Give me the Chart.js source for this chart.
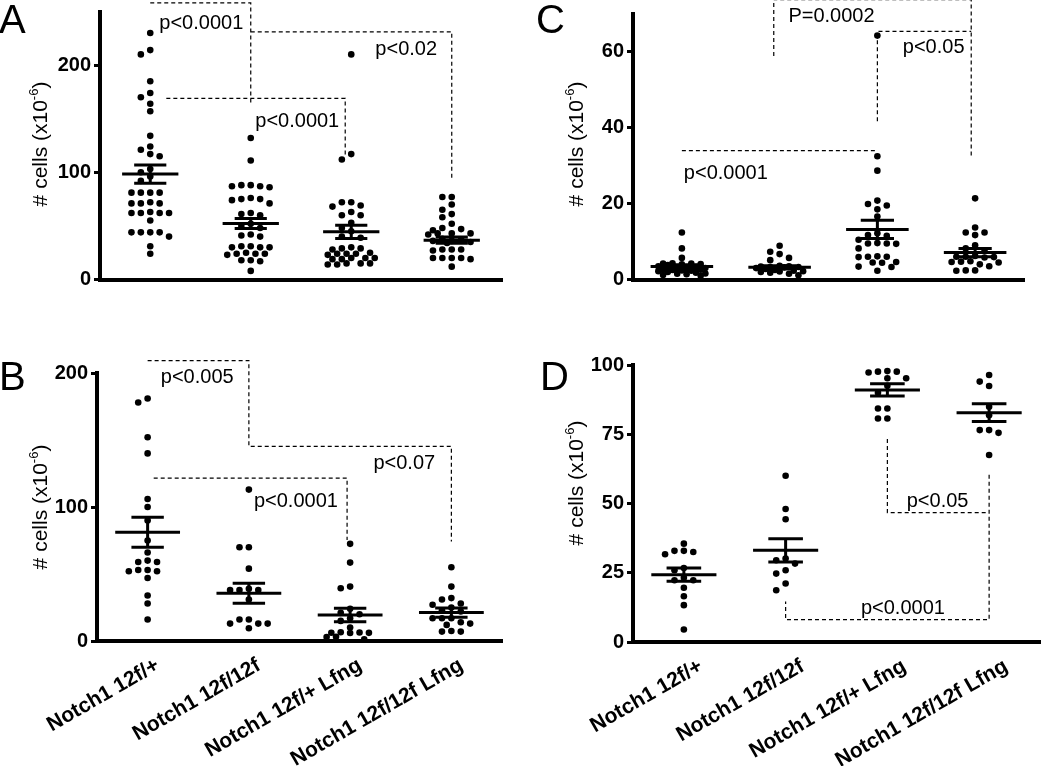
<!DOCTYPE html>
<html lang="en">
<head>
<meta charset="UTF-8">
<title>Notch1 12f / Lfng cell numbers</title>
<script src="https://cdn.jsdelivr.net/npm/chart.js@4.4.0/dist/chart.umd.min.js"></script>
<style>
    body { margin: 0; background: #fff; }
    #wrap { position: relative; width: 1050px; height: 766px; overflow: hidden; }
    #wrap canvas { position: absolute; }
</style>
</head>
<body>
<div id="wrap">
    <canvas id="panelA" width="525" height="300" style="left:0;top:0"></canvas>
    <canvas id="panelC" width="525" height="300" style="left:525px;top:0"></canvas>
    <canvas id="panelB" width="525" height="466" style="left:0;top:300px"></canvas>
    <canvas id="panelD" width="525" height="466" style="left:525px;top:300px"></canvas>
</div>

<script>
const FONT = '"Liberation Sans", Arial, Helvetica, sans-serif';

const groups = ['Notch1 12f/+', 'Notch1 12f/12f', 'Notch1 12f/+ Lfng', 'Notch1 12f/12f Lfng'];

// Panel A
const cellsA = [
    [230, 214, 210, 185, 174, 170, 164, 157, 134, 124, 121, 117, 115, 103, 100, 96, 92, 81, 81, 81, 81, 72, 71, 71, 71, 63, 62, 62, 62, 62, 55, 44, 44, 44, 44, 40, 31, 24],
    [132, 111, 88, 88, 87, 86, 87, 75, 76, 75, 74, 71, 62, 61, 60, 52, 50, 48, 42, 41, 40, 31, 30, 31, 30, 30, 24, 24, 25, 23, 24, 18, 18, 17, 8],
    [210, 117, 112, 72, 72, 69, 68, 63, 60, 60, 53, 48, 45, 40, 39, 30, 29, 29, 28, 24, 24, 23, 24, 25, 20, 20, 19, 20, 19, 15, 14, 14, 15, 15],
    [77, 77, 70, 65, 61, 58, 52, 48, 47, 46, 43, 43, 42, 43, 38, 37, 36, 36, 35, 34, 28, 28, 27, 28, 20, 20, 19, 20, 20, 12]
];
const meanA = [98.3, 52.3, 44.5, 36.7];
const semA = [8.5, 4.7, 6.2, 3.0];
const ticksA = [0, 100, 200];
const bracketsA = [
    [[0, 258], [1, 258], [1, 163]],
    [[1, 231], [3, 231], [3, 94.5]],
    [[0.16, 169], [1.94, 169], [1.94, 114.5]]
];
const pTextA = ['p<0.0001', 'p<0.02', 'p<0.0001'];
const pAtA = [[0.09, 234], [2.24, 209], [1.045, 142]];

// Panel B
const cellsB = [
    [181, 178, 152, 140, 106, 100, 90, 75, 66, 60, 59, 59, 53, 52, 52, 53, 47, 34, 28, 16],
    [113, 70, 70, 54, 39, 38, 38, 38, 31, 16, 13, 16, 13, 13, 9.5],
    [72.5, 58.5, 40.6, 39.4, 24, 21, 20, 17, 15, 10, 6.5, 6.3, 6.2, 6.1, 6.0, 3.2, 3.0, 1.2],
    [55, 40.6, 32, 31, 28, 27, 25, 23, 22, 17, 17, 17, 14, 13, 12, 7.5, 7, 7]
];
const meanB = [81.2, 35.6, 19.4, 21.2];
const semB = [11.2, 7.5, 5.0, 3.4];
const ticksB = [0, 100, 200];
const bracketsB = [
    [[0, 209.3], [1, 209.3], [1, 145.2], [3, 145.2], [3, 74.2]],
    [[0.06, 121.5], [1.97, 121.5], [1.97, 75.4]]
];
const pTextB = ['p<0.005', 'p<0.07', 'p<0.0001'];
const pAtB = [[0.13, 192.5], [2.23, 128.2], [1.05, 100.3]];

// Panel C
const cellsC = [
    [12.4, 8.2, 5.7, 4.3, 4.2, 4.1, 4.0, 4.2, 3.8, 3.5, 3.3, 3.0, 2.8, 2.7, 2.6, 2.6, 2.5, 2.4, 2.3, 2.2, 2.0, 1.8, 1.6, 1.5, 1.4, 1.2, 1.0],
    [8.9, 7.3, 6.7, 5.7, 5.1, 3.6, 3.5, 3.4, 3.3, 3.3, 3.2, 3.0, 2.8, 2.5, 2.3, 2.2, 2.1, 2.0, 1.8, 1.5, 1.1],
    [64.3, 32.5, 28.7, 20.8, 19.9, 19.5, 18.5, 16.6, 12.2, 11.7, 11.5, 10.5, 9.5, 9.5, 9.4, 9.6, 8.2, 6.0, 6.0, 6.1, 5.9, 4.6, 4.5, 4.4, 3.4, 3.3, 2.3],
    [21.4, 13.7, 12.4, 12.4, 11.7, 9.0, 8.2, 7.5, 6.2, 6.0, 6.0, 5.9, 5.8, 4.8, 4.7, 4.6, 4.5, 4.0, 3.5, 2.4, 2.4, 2.3]
];
const meanC = [3.4, 3.2, 13.2, 7.1];
const semC = [0.5, 0.4, 2.4, 1.1];
const ticksC = [0, 20, 40, 60];
const bracketsC = [
    [[0.94, 58.9], [0.94, 73.8], [2.96, 73.8], [2.96, 32.5]],
    [[2, 41.7], [2, 65.4], [2.96, 65.4]],
    [[0, 34], [1.98, 34]]
];
const pTextC = ['P=0.0002', 'p<0.05', 'p<0.0001'];
const pAtC = [[1.09, 67.9], [2.26, 59.6], [0.02, 26.5]];

// Panel D
const cellsD = [
    [35.5, 32.9, 32.5, 31.7, 32.9, 26.7, 25.9, 23.2, 22.3, 22.3, 19.6, 16.5, 13.3, 4.5],
    [60, 48, 44.3, 30.1, 29.5, 28.3, 25.9, 24.7, 21.1, 18.7],
    [97.6, 97.8, 97.3, 97.6, 95.2, 95.2, 92.5, 90, 84.3, 84.3, 80.7, 80.7],
    [96.4, 94, 92.4, 84.9, 81.9, 76.5, 76.5, 75.5, 67.5]
];
const meanD = [24.3, 33.1, 91.0, 82.8];
const semD = [2.4, 4.2, 2.2, 3.2];
const ticksD = [0, 25, 50, 75, 100];
const bracketsD = [
    [[2, 73.3], [2, 46.7], [3, 46.7]],
    [[3, 60.4], [3, 8.1], [1, 8.1], [1, 14.6]]
];
const pTextD = ['p<0.05', 'p<0.0001'];
const pAtD = [[2.19, 48.9], [1.74, 10.1]];

// spread points sideways in rows (Prism style), at most 2.5 steps from the centre
const SLOTS = [0, -1, 1, -2, 2, -0.5, 0.5, -1.5, 1.5, -2.5, 2.5];
function swarm(values, gi, pxPerUnit, pxPerCat) {
    const step = 9.4, gap = 7;
    const placed = [];
    return [...values].sort((a, b) => b - a).map(v => {
        const py = v * pxPerUnit;
        let best = 0, bestClear = -1;
        for (const k of SLOTS) {
            const px = k * step;
            let clear = Infinity;
            placed.forEach(p => { clear = Math.min(clear, Math.hypot(p[0] - px, p[1] - py)); });
            if (clear >= gap && Number.isInteger(k)) { best = px; bestClear = clear; break; }
            if (clear > bestClear) { bestClear = clear; best = px; }
        }
        placed.push([best, py]);
        return { x: gi + best / pxPerCat, y: v };
    });
}

function meanSem(mean, sem, half, cap) {
    const pts = [];
    mean.forEach((m, i) => {
        const s = sem[i];
        pts.push({ x: i - half, y: m }, { x: i + half, y: m }, { x: i, y: null });
        pts.push({ x: i - cap, y: m + s }, { x: i + cap, y: m + s }, { x: i, y: null });
        pts.push({ x: i - cap, y: m - s }, { x: i + cap, y: m - s }, { x: i, y: null });
        pts.push({ x: i, y: m - s }, { x: i, y: m + s }, { x: i, y: null });
    });
    return pts;
}

function bracketPts(list) {
    const pts = [];
    list.forEach(b => {
        b.forEach(p => pts.push({ x: p[0], y: p[1] }));
        pts.push({ x: b[0][0], y: null });
    });
    return pts;
}

function drawYTitle(ctx, x, y) {
    const main = '# cells (x10', sup = '-6', end = ')';
    ctx.save();
    ctx.translate(x, y);
    ctx.rotate(-Math.PI / 2);
    ctx.fillStyle = '#000';
    ctx.textAlign = 'left';
    ctx.textBaseline = 'alphabetic';
    ctx.font = '21px ' + FONT;
    const w1 = ctx.measureText(main).width, w3 = ctx.measureText(end).width;
    ctx.font = '13px ' + FONT;
    const w2 = ctx.measureText(sup).width;
    let cx = -(w1 + w2 + w3) / 2;
    ctx.font = '21px ' + FONT;
    ctx.fillText(main, cx, 0);
    cx += w1;
    ctx.font = '13px ' + FONT;
    ctx.fillText(sup, cx, -9);
    cx += w2;
    ctx.font = '21px ' + FONT;
    ctx.fillText(end, cx, 0);
    ctx.restore();
}

const panelDecor = {
    id: 'panelDecor',
    afterDraw(chart, args, o) {
        const ctx = chart.ctx, xs = chart.scales.x, ys = chart.scales.y;
        ctx.save();
        ctx.fillStyle = '#000';
        ctx.textAlign = 'left';
        ctx.textBaseline = 'alphabetic';
        ctx.font = '40px ' + FONT;
        ctx.fillText(o.letter, o.letterAt[0], o.letterAt[1]);
        ctx.font = '20px ' + FONT;
        o.notes.forEach((t, i) => {
            ctx.fillText(t, xs.getPixelForValue(o.noteAt[i][0]), ys.getPixelForValue(o.noteAt[i][1]));
        });
        ctx.restore();
        drawYTitle(ctx, o.titleAt[0], o.titleAt[1]);
    }
};

function makePanel(p) {
    const area = p.area;
    const pxPerUnit = (area.bottom - area.top) / p.max;
    const pxPerCat = (area.right - area.left) / 4;
    const dots = [];
    p.cells.forEach((vals, i) => dots.push(...swarm(vals, i, pxPerUnit, pxPerCat)));
    const cv = document.getElementById(p.id);

    new Chart(cv, {
        type: 'scatter',
        data: {
            datasets: [
                {
                    data: bracketPts(p.brackets),
                    showLine: true, spanGaps: false,
                    borderColor: '#000', borderWidth: 1.2, borderDash: [4, 3],
                    pointRadius: 0, clip: false
                },
                {
                    data: dots,
                    pointRadius: 3.3, pointBackgroundColor: '#000', pointBorderWidth: 0,
                    clip: false
                },
                {
                    data: meanSem(p.mean, p.sem, p.half, p.cap),
                    showLine: true, spanGaps: false,
                    borderColor: '#000', borderWidth: 3, borderCapStyle: 'butt',
                    pointRadius: 0, clip: false
                }
            ]
        },
        options: {
            responsive: false,
            animation: false,
            events: [],
            layout: { padding: { left: 0, top: area.top, right: cv.width - area.right, bottom: 0 } },
            plugins: {
                legend: { display: false },
                tooltip: { enabled: false },
                panelDecor: {
                    letter: p.letter, letterAt: p.letterAt, titleAt: p.titleAt,
                    notes: p.notes, noteAt: p.noteAt
                }
            },
            scales: {
                x: {
                    type: 'linear', min: -0.5, max: 3.5,
                    afterBuildTicks: s => { s.ticks = groups.map((g, i) => ({ value: i })); },
                    afterFit: s => { s.height = cv.height - area.bottom; s.paddingLeft = 0; s.paddingRight = 0; },
                    grid: { display: false, drawTicks: false },
                    border: { display: true, color: '#000', width: 4 },
                    ticks: {
                        display: p.showX, autoSkip: false,
                        minRotation: 30, maxRotation: 30,
                        padding: 12, labelOffset: p.labelOffset,
                        color: '#000',
                        font: { family: FONT, size: 21, weight: 'bold' },
                        callback: v => groups[v]
                    }
                },
                y: {
                    type: 'linear', min: 0, max: p.max,
                    afterBuildTicks: s => { s.ticks = p.ticks.map(v => ({ value: v })); },
                    afterFit: s => { s.width = area.left; s.paddingTop = 0; s.paddingBottom = 0; },
                    grid: { display: true, drawOnChartArea: false, drawTicks: true, tickLength: 6, lineWidth: 3, color: '#000' },
                    border: { display: true, color: '#000', width: 4 },
                    ticks: {
                        padding: 3, color: '#000',
                        font: { family: FONT, size: 20, weight: 'bold' }
                    }
                }
            }
        },
        plugins: [panelDecor]
    });
}

makePanel({
    id: 'panelA', letter: 'A', letterAt: [-1, 33], titleAt: [47, 144],
    area: { left: 100, right: 502, top: 11.5, bottom: 279.5 },
    max: 250, ticks: ticksA, cells: cellsA, mean: meanA, sem: semA, half: 0.28, cap: 0.16,
    brackets: bracketsA, notes: pTextA, noteAt: pAtA, showX: false, labelOffset: 0
});
makePanel({
    id: 'panelC', letter: 'C', letterAt: [11, 33], titleAt: [58, 144],
    area: { left: 108, right: 499, top: 14, bottom: 279.5 },
    max: 70, ticks: ticksC, cells: cellsC, mean: meanC, sem: semC, half: 0.32, cap: 0.17,
    brackets: bracketsC, notes: pTextC, noteAt: pAtC, showX: false, labelOffset: 0
});
makePanel({
    id: 'panelB', letter: 'B', letterAt: [-1, 90], titleAt: [47, 207],
    area: { left: 97, right: 502, top: 73, bottom: 341 },
    max: 200, ticks: ticksB, cells: cellsB, mean: meanB, sem: semB, half: 0.32, cap: 0.16,
    brackets: bracketsB, notes: pTextB, noteAt: pAtB, showX: true, labelOffset: 10
});
makePanel({
    id: 'panelD', letter: 'D', letterAt: [15, 90], titleAt: [58, 183],
    area: { left: 108, right: 515, top: 65, bottom: 342 },
    max: 100, ticks: ticksD, cells: cellsD, mean: meanD, sem: semD, half: 0.32, cap: 0.17,
    brackets: bracketsD, notes: pTextD, noteAt: pAtD, showX: true, labelOffset: 17
});
</script>
</body>
</html>
